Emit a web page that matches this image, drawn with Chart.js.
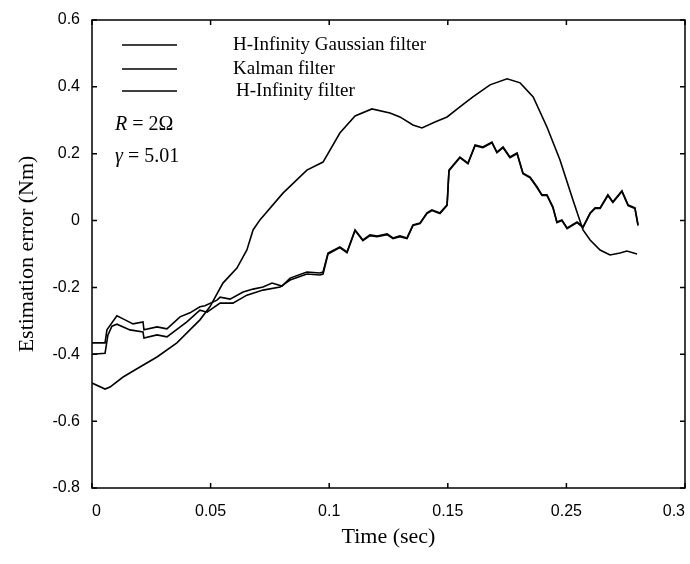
<!DOCTYPE html>
<html>
<head>
<meta charset="utf-8">
<script src="https://cdn.jsdelivr.net/npm/chart.js@4.4.1/dist/chart.umd.min.js"></script>
<style>
  html, body { margin: 0; padding: 0; background: #ffffff; }
  #c { display: block; }
</style>
</head>
<body>
<canvas id="c" width="690" height="564"></canvas>
<script>
// ---------- data ----------
const xTickLabels = ['0', '0.05', '0.1', '0.15', '0.25', '0.3'];
const yTickLabels = ['-0.8', '-0.6', '-0.4', '-0.2', '0', '0.2', '0.4', '0.6'];
const legendLabels = ['H-Infinity Gaussian filter', 'Kalman filter', 'H-Infinity filter'];

const gaussT = [0, 0.0055, 0.0076, 0.0131, 0.0202, 0.0274, 0.0358, 0.0455, 0.0497, 0.0552, 0.0611, 0.0653, 0.0679, 0.0708, 0.0805, 0.0906, 0.0974, 0.1045, 0.1109, 0.1180, 0.1256, 0.1298, 0.1353, 0.1391, 0.1446, 0.1497, 0.1551, 0.1606, 0.1678, 0.1750, 0.1805, 0.1860, 0.1918, 0.1973, 0.2028, 0.2070, 0.2100, 0.2142, 0.2184, 0.2226, 0.2255, 0.2298];
const gaussY = [-0.486, -0.504, -0.498, -0.468, -0.438, -0.408, -0.366, -0.297, -0.258, -0.187, -0.142, -0.088, -0.028, 0.002, 0.082, 0.151, 0.175, 0.262, 0.313, 0.334, 0.322, 0.310, 0.286, 0.277, 0.295, 0.310, 0.340, 0.370, 0.406, 0.424, 0.412, 0.370, 0.280, 0.181, 0.061, -0.028, -0.058, -0.088, -0.103, -0.097, -0.091, -0.100];

const kalmanT = [0, 0.0055, 0.0063, 0.0105, 0.0131, 0.0173, 0.0215, 0.0219, 0.0274, 0.0316, 0.0371, 0.0413, 0.0455, 0.0476, 0.0527, 0.0540, 0.0582, 0.0637, 0.0679, 0.0721, 0.0759, 0.0801, 0.0835, 0.0906, 0.0961, 0.0974, 0.0995, 0.1045, 0.1075, 0.1109, 0.1142, 0.1172, 0.1202, 0.1244, 0.1269, 0.1298, 0.1328, 0.1353, 0.1383, 0.1412, 0.1433, 0.1467, 0.1497, 0.1505, 0.1551, 0.1585, 0.1615, 0.1648, 0.1686, 0.1707, 0.1733, 0.1762, 0.1792, 0.1817, 0.1847, 0.1876, 0.1897, 0.1918, 0.1943, 0.1960, 0.1981, 0.2003, 0.2045, 0.2070, 0.2100, 0.2121, 0.2142, 0.2175, 0.2196, 0.2234, 0.2260, 0.2289, 0.2302];
const kalmanY = [-0.366, -0.366, -0.327, -0.285, -0.294, -0.309, -0.303, -0.327, -0.318, -0.324, -0.288, -0.276, -0.258, -0.255, -0.238, -0.229, -0.235, -0.214, -0.205, -0.199, -0.187, -0.196, -0.172, -0.154, -0.157, -0.154, -0.097, -0.079, -0.094, -0.028, -0.058, -0.043, -0.046, -0.040, -0.052, -0.046, -0.052, -0.013, -0.007, 0.023, 0.032, 0.023, 0.047, 0.151, 0.190, 0.172, 0.226, 0.220, 0.235, 0.205, 0.220, 0.190, 0.202, 0.142, 0.130, 0.101, 0.077, 0.077, 0.041, -0.004, 0.002, -0.022, -0.004, -0.019, 0.023, 0.038, 0.038, 0.077, 0.056, 0.089, 0.047, 0.038, -0.013];

const hinfT = [0, 0.0055, 0.0067, 0.0084, 0.0105, 0.0160, 0.0215, 0.0219, 0.0274, 0.0316, 0.0400, 0.0455, 0.0485, 0.0540, 0.0594, 0.0653, 0.0721, 0.0793, 0.0835, 0.0906, 0.0961, 0.0974, 0.0995, 0.1045, 0.1075, 0.1109, 0.1142, 0.1172, 0.1202, 0.1244, 0.1269, 0.1298, 0.1328, 0.1353, 0.1383, 0.1412, 0.1433, 0.1467, 0.1497, 0.1505, 0.1551, 0.1585, 0.1615, 0.1648, 0.1686, 0.1707, 0.1733, 0.1762, 0.1792, 0.1817, 0.1847, 0.1876, 0.1897, 0.1918, 0.1943, 0.1960, 0.1981, 0.2003, 0.2045, 0.2070, 0.2100, 0.2121, 0.2142, 0.2175, 0.2196, 0.2234, 0.2260, 0.2289, 0.2302];
const hinfY = [-0.400, -0.397, -0.343, -0.316, -0.310, -0.327, -0.333, -0.351, -0.342, -0.348, -0.303, -0.268, -0.274, -0.247, -0.247, -0.223, -0.208, -0.199, -0.178, -0.160, -0.163, -0.160, -0.100, -0.081, -0.096, -0.030, -0.060, -0.045, -0.048, -0.042, -0.054, -0.048, -0.054, -0.015, -0.009, 0.021, 0.030, 0.021, 0.045, 0.149, 0.188, 0.170, 0.224, 0.218, 0.233, 0.203, 0.218, 0.188, 0.200, 0.140, 0.128, 0.099, 0.075, 0.075, 0.039, -0.006, 0.000, -0.024, -0.006, -0.021, 0.021, 0.036, 0.036, 0.075, 0.054, 0.087, 0.045, 0.036, -0.015];

const zip = (t, v) => t.map((x, i) => ({ x: x, y: v[i] }));

// ---------- decorations plugin ----------
const framePlugin = {
  id: 'frame',
  afterDraw(chart) {
    const { ctx, chartArea, scales } = chart;
    const { left, right, top, bottom } = chartArea;
    ctx.save();
    ctx.strokeStyle = '#000';
    ctx.lineWidth = 1.5;
    ctx.strokeRect(left, top, right - left, bottom - top);
    const tl = 5;
    ctx.beginPath();
    scales.x.ticks.forEach(t => {
      const px = scales.x.getPixelForValue(t.value);
      ctx.moveTo(px, bottom); ctx.lineTo(px, bottom - tl);
      ctx.moveTo(px, top); ctx.lineTo(px, top + tl);
    });
    scales.y.ticks.forEach(t => {
      const py = scales.y.getPixelForValue(t.value);
      ctx.moveTo(left, py); ctx.lineTo(left + tl, py);
      ctx.moveTo(right, py); ctx.lineTo(right - tl, py);
    });
    ctx.stroke();

    // legend (drawn inside the plot)
    const lx0 = left + 30, lx1 = left + 85, tx = left + 141;
    const rows = [top + 25, top + 49, top + 71];
    ctx.lineWidth = 1.4;
    ctx.fillStyle = '#000';
    ctx.font = '19px "Liberation Serif", "Times New Roman", serif';
    ctx.textBaseline = 'middle';
    ctx.textAlign = 'left';
    rows.forEach((ry, i) => {
      ctx.beginPath();
      ctx.moveTo(lx0, ry); ctx.lineTo(lx1, ry);
      ctx.stroke();
      ctx.fillText(legendLabels[i], tx + (i === 2 ? 3 : 0), ry);
    });

    // parameter annotations
    const ax = left + 23;
    ctx.font = 'italic 20px "Liberation Serif", "Times New Roman", serif';
    ctx.fillText('R', ax, top + 105);
    let w = ctx.measureText('R').width;
    ctx.font = '20px "Liberation Serif", "Times New Roman", serif';
    ctx.fillText(' = 2\u03A9', ax + w, top + 105);
    ctx.font = 'italic 20px "Liberation Serif", "Times New Roman", serif';
    ctx.fillText('\u03B3', ax, top + 137);
    w = ctx.measureText('\u03B3').width;
    ctx.font = '20px "Liberation Serif", "Times New Roman", serif';
    ctx.fillText(' = 5.01', ax + w, top + 137);
    ctx.restore();
  }
};

Chart.defaults.font.family = '"Liberation Sans", Arial, sans-serif';
Chart.defaults.color = '#000';

const lineStyle = { borderColor: '#000', borderWidth: 1.6, pointRadius: 0, tension: 0, fill: false };

new Chart(document.getElementById('c'), {
  type: 'line',
  data: {
    datasets: [
      Object.assign({ label: legendLabels[0], data: zip(gaussT, gaussY) }, lineStyle),
      Object.assign({ label: legendLabels[1], data: zip(kalmanT, kalmanY) }, lineStyle),
      Object.assign({ label: legendLabels[2], data: zip(hinfT, hinfY) }, lineStyle)
    ]
  },
  options: {
    responsive: false,
    animation: false,
    devicePixelRatio: 1,
    layout: { padding: { left: 14, right: 5, top: 20, bottom: 14 } },
    plugins: { legend: { display: false }, tooltip: { enabled: false } },
    scales: {
      x: {
        type: 'linear',
        min: 0, max: 0.25,
        grid: { display: false, drawTicks: false },
        border: { display: false },
        ticks: {
          stepSize: 0.05,
          align: 'inner',
          padding: 14,
          maxRotation: 0,
          autoSkip: false,
          font: { size: 16 },
          callback: (v, i) => xTickLabels[i]
        },
        title: {
          display: true,
          text: 'Time (sec)',
          font: { family: '"Liberation Serif", "Times New Roman", serif', size: 22 },
          padding: 0
        },
        afterFit: s => { s.height = 564 - 14 - 488; s.paddingLeft = 0; s.paddingRight = 0; }
      },
      y: {
        type: 'linear',
        min: -0.8, max: 0.6,
        grid: { display: false, drawTicks: false },
        border: { display: false },
        ticks: {
          stepSize: 0.2,
          padding: 12,
          font: { size: 16 },
          callback: (v, i) => yTickLabels[i]
        },
        title: {
          display: true,
          text: 'Estimation error (Nm)',
          font: { family: '"Liberation Serif", "Times New Roman", serif', size: 22 },
          padding: 0
        },
        afterFit: s => { s.width = 92 - 14; s.paddingTop = 0; s.paddingBottom = 0; }
      }
    }
  },
  plugins: [framePlugin]
});
</script>
</body>
</html>
